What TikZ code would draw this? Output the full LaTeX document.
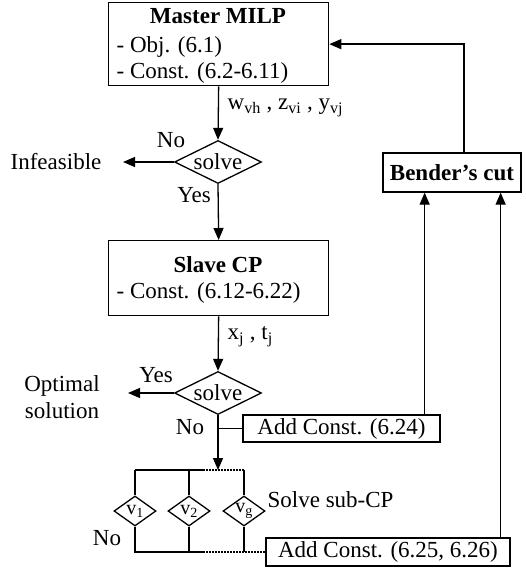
\documentclass[tikz,border=0pt]{standalone}
\usepackage{fontspec}
\setmainfont{Liberation Serif}
\usetikzlibrary{arrows.meta,shapes.geometric}
\begin{document}
\begin{tikzpicture}[x=1pt,y=-1pt, line width=1.3pt, inner sep=0pt,
  font=\fontsize{23}{27}\selectfont,
  >={Triangle[length=12pt,width=10pt]},
  box/.style={draw, rectangle, anchor=north west},
  cbox/.style={draw, rectangle},
  dia/.style={draw, diamond, aspect=2, minimum width=87pt, minimum height=43pt},
  sdia/.style={draw, diamond, aspect=1.4, minimum width=42pt, minimum height=30pt, font=\fontsize{20}{22}\selectfont},
  dots/.style={dash pattern=on 1.6pt off 1.4pt}]
\useasboundingbox (0,0) rectangle (526,572);
% Master
\node[box, minimum width=220pt, minimum height=83pt] (master) at (108,2) {};
\node[anchor=base] (mt) at (218,24) {\textbf{Master MILP}};
\node[anchor=base west] (m1) at (116,53) {- Obj. (6.1)};
\node[anchor=base west] (m2) at (116,79) {- Const. (6.2-6.11)};
% solve 1
\node[dia] (s1) at (218,162) {solve};
\draw[->] (master.south) -- (s1.north);
\node[anchor=west] (lw) at (227,108) {w\textsubscript{vh} , z\textsubscript{vi} , y\textsubscript{vj}};
\node[anchor=east] (inf) at (102,162) {Infeasible};
\coordinate (infin) at (123,162);
\draw[->] (s1.west) -- (infin);
\node (no1) at (171,140) {No};
\node (yes1) at (194,195) {Yes};
% Slave
\node[box, minimum width=220pt, minimum height=75pt] (slave) at (108,240) {};
\node[anchor=base] (st) at (218,272) {\textbf{Slave CP}};
\node[anchor=base west] (s1l) at (116,298) {- Const. (6.12-6.22)};
\draw[->] (s1.south) -- (slave.north);
% solve 2
\node[dia] (s2) at (218,393) {solve};
\draw[->] (slave.south) -- (s2.north);
\node[anchor=west] (lx) at (227,337) {x\textsubscript{j} , t\textsubscript{j}};
\node[align=center] (opt) at (62,397) {Optimal\\solution};
\coordinate (optin) at (128,393);
\draw[->] (s2.west) -- (optin);
\node (yes2) at (156,375) {Yes};
\node (no2) at (190,427) {No};
% Add const 6.24
\node[cbox, minimum width=197pt, minimum height=27pt] (add1) at (341.5,428.5) {Add Const. (6.24)};
\coordinate (j1) at (218,428.5);
\draw (j1) -- (add1.west);
% sub-CP
\coordinate (bar) at (218,470);
\draw[->] (s2.south) -- (bar);
\coordinate (b1) at (135,470);
\coordinate (b2) at (189,470);
\coordinate (bd) at (203,470);
\coordinate (b3) at (244,470);
\draw (b1) -- (bd);
\draw[dots] (bd) -- (b3);
\node[sdia] (v1) at (135,511) {v\textsubscript{1}};
\node[sdia] (v2) at (189,511) {v\textsubscript{2}};
\node[sdia] (v3) at (244,511) {v\textsubscript{g}};
\draw (b1) -- (v1.north);
\draw (b2) -- (v2.north);
\draw (b3) -- (v3.north);
\node[anchor=west] (ssub) at (267,500) {Solve sub-CP};
\node (no3) at (107,538) {No};
% Add const 6.25
\node[cbox, minimum width=244pt, minimum height=28pt] (add2) at (388,552) {Add Const. (6.25, 6.26)};
\coordinate (c1) at (135,552);
\coordinate (c2) at (189,552);
\coordinate (cd) at (203,552);
\coordinate (c3) at (244,552);
\draw (v1.south) -- (c1) -- (cd);
\draw (v2.south) -- (c2);
\draw (v3.south) -- (c3);
\draw[dots] (cd) -- (add2.west);
% Bender
\node[cbox, minimum width=138pt, minimum height=39pt] (bend) at (452,172.5) {\textbf{Bender’s cut}};
\draw[->] ([xshift=-16pt]add1.north east) -- ([xshift=-16pt]add1.north east |- bend.south);
\draw[->] ([xshift=-10pt]add2.north east) -- ([xshift=-10pt]add2.north east |- bend.south);
\draw[->] ([xshift=12pt]bend.north) |- (master.east);
\end{tikzpicture}
\end{document}
